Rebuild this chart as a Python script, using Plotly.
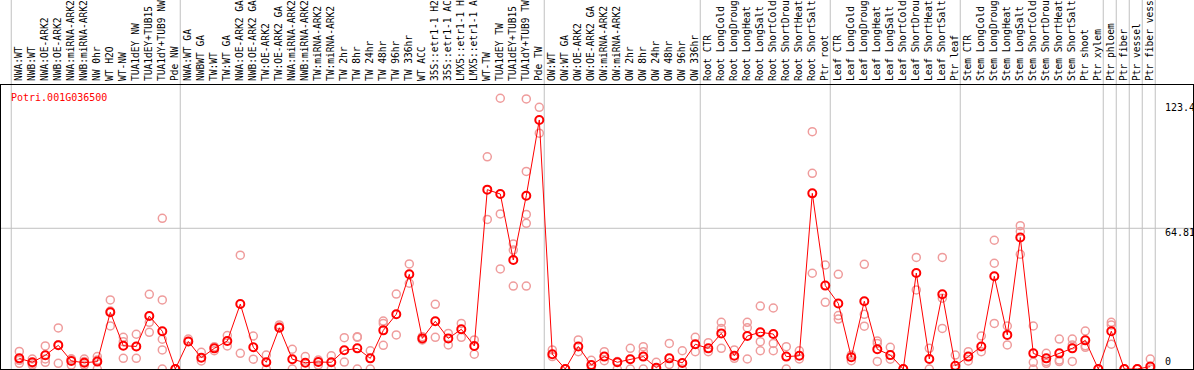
import plotly.graph_objects as go

gene_name = "Potri.001G036500"

labels = [
    "NWA:WT", "NWB:WT", "NWA:OE-ARK2", "NWB:OE-ARK2", "NWA:miRNA-ARK2", "NWB:miRNA-ARK2",
    "NW 0hr", "WT H2O", "WT-NW", "TUA1dEY NW", "TUA1dEY+TUB15", "TUA1dY+TUB9 NW", "Pde NW",
    "NWA:WT GA", "NWBWT GA", "TW:WT", "TW:WT GA", "NWA:OE-ARK2 GA", "NWB:OE-ARK2 GA",
    "TW:OE-ARK2", "TW:OE-ARK2 GA", "NWA:miRNA-ARK2", "NWB:miRNA-ARK2", "TW:miRNA-ARK2",
    "TW:miRNA-ARK2", "TW 2hr", "TW 8hr", "TW 24hr", "TW 48hr", "TW 96hr", "TW 336hr",
    "WT ACC", "35S::etr1-1 H2", "35S::etr1-1 AC", "LMX5::etr1-1 H", "LMX5::etr1-1 A",
    "WT-TW", "TUA1dEY TW", "TUA1dEY+TUB15", "TUA1dY+TUB9 TW", "Pde TW",
    "OW:WT", "OW:WT GA", "OW:OE-ARK2", "OW:OE-ARK2 GA", "OW:miRNA-ARK2", "OW:miRNA-ARK2",
    "OW 2hr", "OW 8hr", "OW 24hr", "OW 48hr", "OW 96hr", "OW 336hr",
    "Root CTR", "Root LongCold", "Root LongDroug", "Root LongHeat", "Root LongSalt",
    "Root ShortCold", "Root ShortDrou", "Root ShortHeat", "Root ShortSalt", "Ptr root",
    "Leaf CTR", "Leaf LongCold", "Leaf LongDroug", "Leaf LongHeat", "Leaf LongSalt",
    "Leaf ShortCold", "Leaf ShortDrou", "Leaf ShortHeat", "Leaf ShortSalt", "Ptr leaf",
    "Stem CTR", "Stem LongCold", "Stem LongDroug", "Stem LongHeat", "Stem LongSalt",
    "Stem ShortCold", "Stem ShortDrou", "Stem ShortHeat", "Stem ShortSalt", "Ptr shoot",
    "Ptr xylem", "Ptr phloem", "Ptr fiber", "Ptr vessel", "Ptr fiber vess",
]

mean_values = [
    4.9, 3.1, 6.3, 10.9, 3.7, 2.9, 3.4, 26.1, 10.7, 10.4, 24.4, 17.4, 0,
    12.7, 5.2, 9.5, 12.9, 29.9, 10.0, 3.1, 19.0, 4.5,
    2.9, 3.2, 3.1, 8.6, 9.5, 4.9, 17.8, 25.2, 43.6, 14.1, 22.0, 14.1, 18.3, 10.6,
    82.6, 80.6, 50.2, 79.8, 114.7,
    6.8, 0, 10.4, 1.8, 5.7, 3.1, 4.5, 5.7, 0.6, 4.9, 2.8, 11.4,
    9.5, 16.4, 6.1, 15.2, 16.9, 16.1, 5.7, 6.1, 80.9, 38.4,
    30.2, 5.4, 31.2, 9.1, 6.4, 0, 44.2, 4.6, 34.4, 1.5,
    5.7, 10.4, 42.7, 15.7, 60.6, 7.2, 4.9, 7.2, 9.5, 13.2, 0,
    17.4, 0, 0, 1.1,
]

replicate_values = [
    [8.1, 4.0, 2.6], [4.6, 2.6, 1.8], [10.6, 4.6, 3.1], [18.9, 2.6, 11.2],
    [4.6, 1.8, 4.6], [4.6, 1.8, 3.4], [5.7, 0, 4.1], [31.8, 26.7, 19.8],
    [14.6, 4.9, 12.6], [16.0, 4.9, 10.4], [34.4, 21.5, 16.9],
    [69.4, 31.8, 13.7, 8.8, 0], [0, 0],
    [13.8, 12.7], [7.7, 3.7], [8.4, 10.3], [15.4, 10.6], [52.4, 7.2], [15.2, 4.5],
    [6.4, 0], [20.3, 19.5], [9.1, 0],
    [5.7, 0.6], [4.1, 1.8], [6.1, 0], [14.4, 3.2], [14.9, 14.6, 0], [8.4, 0],
    [22.1, 21.0, 10.9], [34.5, 15.7], [48.4, 39.5], [14.9, 13.4], [29.8, 14.6],
    [16.4, 11.1], [21.0, 14.6], [13.4, 6.8], [97.7, 68.9], [124.7, 71.4, 46.1],
    [57.6, 54.8, 38.2], [124.4, 91.0, 71.2, 67.1, 38.2], [120.5, 108.6],
    [8.8, 5.7], [0, 0], [13.4, 8.0], [4.0, 0],
    [8.0, 3.8], [3.4, 0], [9.5, 0], [10.3, 8.0, 0], [3.1, 0], [11.8, 2.1],
    [8.4, 0], [14.6, 8.0],
    [12.1, 8.0], [21.5, 18.7, 9.5], [8.8, 4.9], [21.5, 19.0, 4.6], [29.0, 12.6, 8.4],
    [28.1, 11.8, 8.4], [10.3, 0], [8.4, 4.6], [109.3, 90.1, 44.1], [47.9, 30.7],
    [43.6, 24.6, 23.0], [6.4, 3.8], [48.2, 25.2, 19.7], [12.9, 11.8, 3.5], [10.0, 4.5],
    [0, 0], [51.4, 36.4], [9.5, 0], [51.4, 32.6, 18.7], [6.4, 0],
    [8.0, 3.7], [15.2, 8.0], [59.3, 48.7, 21.0], [19.8, 11.1], [66.0, 63.3, 52.8],
    [19.8, 3.1, 0], [7.2, 3.4, 2.6], [13.8, 4.1, 3.4], [13.8, 11.1, 3.5],
    [17.5, 10.7, 10.0], [0, 0],
    [21.5, 20.3, 11.4], [0, 0], [0, 0], [4.6, 0],
]

group_starts = [0, 13, 41, 53, 63, 73, 84, 85, 86, 87, 88]
y_tick_values = [123.4, 64.81, 0]
y_tick_texts = ["123.4", "64.81", "0"]
gridline_value = 64.81

x_idx = list(range(len(labels)))
rep_x, rep_y = [], []
for i, reps in enumerate(replicate_values):
    for v in reps:
        rep_x.append(i)
        rep_y.append(v)

RED = "#ff0000"
PINK = "#ef9c9c"
MONO = "DejaVu Sans Mono"

fig = go.Figure()
fig.add_trace(go.Scatter(
    x=rep_x, y=rep_y, mode="markers",
    marker=dict(symbol="circle-open", size=8, color=PINK, line=dict(width=1.5, color=PINK)),
    hoverinfo="skip", showlegend=False,
))
fig.add_trace(go.Scatter(
    x=x_idx, y=mean_values, mode="lines+markers",
    line=dict(color=RED, width=1),
    marker=dict(symbol="circle-open", size=8, color=RED, line=dict(width=2, color=RED)),
    showlegend=False,
))

shapes = []
for g in group_starts:
    shapes.append(dict(type="line", xref="x", yref="paper", x0=g - 0.62, x1=g - 0.62,
                       y0=0, y1=1.31, line=dict(color="#c0c0c0", width=1), layer="below"))
shapes.append(dict(type="line", xref="paper", yref="y", x0=0, x1=1,
                   y0=gridline_value, y1=gridline_value,
                   line=dict(color="#c0c0c0", width=1), layer="below"))

annotations = [dict(text=gene_name, xref="paper", yref="paper", x=8 / 1192, y=(369 - 97) / 284,
                    xanchor="left", yanchor="middle", showarrow=False,
                    font=dict(family=MONO, size=10, color=RED))]
shifts = [-6.5, -4, 7.5]
for v, t, s in zip(y_tick_values, y_tick_texts, shifts):
    annotations.append(dict(text=t, xref="paper", yref="y", x=(1163 - 1) / 1192, y=v,
                            xanchor="left", yanchor="middle", yshift=s, showarrow=False,
                            font=dict(family=MONO, size=10, color="#000000")))

fig.update_layout(
    width=1194, height=370,
    margin=dict(l=1, r=1, t=85, b=1, pad=0),
    paper_bgcolor="white", plot_bgcolor="white",
    shapes=shapes, annotations=annotations,
    xaxis=dict(
        range=[-1.408, 90.285], side="top", tickmode="array", tickvals=x_idx, ticktext=labels,
        tickangle=-90, tickfont=dict(family=MONO, size=9.6, color="#000000"),
        ticklabelstandoff=1,
        showgrid=False, zeroline=False, showline=True, mirror=True, linecolor="#000000",
        linewidth=1, ticks="", automargin=False, fixedrange=True,
    ),
    yaxis=dict(
        range=[0, 130.8], showticklabels=False, showgrid=False, zeroline=False,
        showline=True, mirror=True, linecolor="#000000", linewidth=1, ticks="",
        automargin=False, fixedrange=True,
    ),
)

fig.write_html(
    "out.html",
    config={"displayModeBar": False},
    post_script="document.body.style.margin='0';document.body.style.overflow='hidden';",
)
